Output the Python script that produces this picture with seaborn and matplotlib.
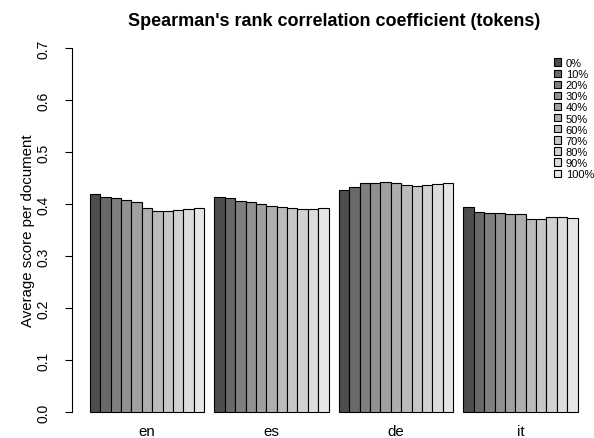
import numpy as np
import pandas as pd
import seaborn as sns
import matplotlib
matplotlib.use("Agg")
import matplotlib.pyplot as plt

# Corpus languages and the share of the document retained
languages = ["en", "es", "de", "it"]
levels = ["0%", "10%", "20%", "30%", "40%", "50%", "60%", "70%", "80%", "90%", "100%"]

# Average Spearman correlation per document, one value per level
en = [0.419, 0.414, 0.412, 0.408, 0.403, 0.392, 0.387, 0.387, 0.389, 0.390, 0.392]
es = [0.414, 0.411, 0.405, 0.403, 0.400, 0.397, 0.395, 0.392, 0.391, 0.390, 0.393]
de = [0.427, 0.433, 0.441, 0.441, 0.442, 0.440, 0.436, 0.434, 0.436, 0.438, 0.441]
it = [0.394, 0.384, 0.382, 0.382, 0.381, 0.380, 0.372, 0.372, 0.375, 0.376, 0.374]

scores = {"en": en, "es": es, "de": de, "it": it}
df = pd.DataFrame(
    [(lang, lvl, v) for lang in languages for lvl, v in zip(levels, scores[lang])],
    columns=["language", "level", "score"],
)

# Gamma-corrected grey ramp (like R's gray.colors)
g = np.linspace(0.3 ** 2.2, 0.9 ** 2.2, len(levels)) ** (1 / 2.2)
palette = [(v, v, v) for v in g]

sns.set_style("white")
plt.rcParams["font.family"] = ["Liberation Sans", "DejaVu Sans"]
for key in ["text.color", "axes.labelcolor", "xtick.color", "ytick.color"]:
    plt.rcParams[key] = "black"

W, H = 594, 439
fig = plt.figure(figsize=(W / 100, H / 100), dpi=100)
left_px, right_px, top_px, bottom_px = 72, 596.5, 34.5, 427.6
ax = fig.add_axes([left_px / W, (H - bottom_px) / H,
                   (right_px - left_px) / W, (bottom_px - top_px) / H])

sns.barplot(data=df, x="language", y="score", hue="level",
            order=languages, hue_order=levels, palette=palette,
            saturation=1, width=11 / 12, gap=0, errorbar=None,
            edgecolor="black", linewidth=0.8, ax=ax)

# axis ranges: bars span the plot with a small margin on both sides
unit = 124.5
x0 = -(147 - left_px) / unit
ax.set_xlim(x0, x0 + (right_px - left_px) / unit)
ax.set_ylim(-0.028, 0.728)

for s in ["top", "right", "bottom"]:
    ax.spines[s].set_visible(False)
ax.spines["left"].set_bounds(0, 0.7)
ax.spines["left"].set_linewidth(0.8)
ax.spines["left"].set_color("black")

base = 10.8
yt = np.round(np.arange(0, 0.71, 0.1), 1)
ax.set_yticks(yt)
ax.set_yticklabels([f"{v:.1f}" for v in yt], rotation=90, va="center", fontsize=10)
ax.tick_params(axis="y", left=True, length=5, width=0.8, color="black", pad=10.5)
ax.tick_params(axis="x", bottom=False, length=0, pad=-2, labelsize=base)
ax.set_xlabel("")
ax.set_ylabel("Average score per document", fontsize=base, va="center")
ax.yaxis.set_label_coords((28 - left_px) / (right_px - left_px), 0.5)

fig.text((left_px + right_px) / 2 / W, 1 - 26 / H,
         "Spearman's rank correlation coefficient (tokens)",
         ha="center", va="baseline", fontsize=13, fontweight="bold")

sns.move_legend(ax, loc="upper left", bbox_to_anchor=(554 / W, 1 - 59 / H),
                bbox_transform=fig.transFigure, frameon=False, title=None,
                fontsize=8, handlelength=0.65, handleheight=0.65,
                handletextpad=0.4, labelspacing=0.1, borderpad=0,
                borderaxespad=0)

fig.savefig("out.png", dpi=100)
